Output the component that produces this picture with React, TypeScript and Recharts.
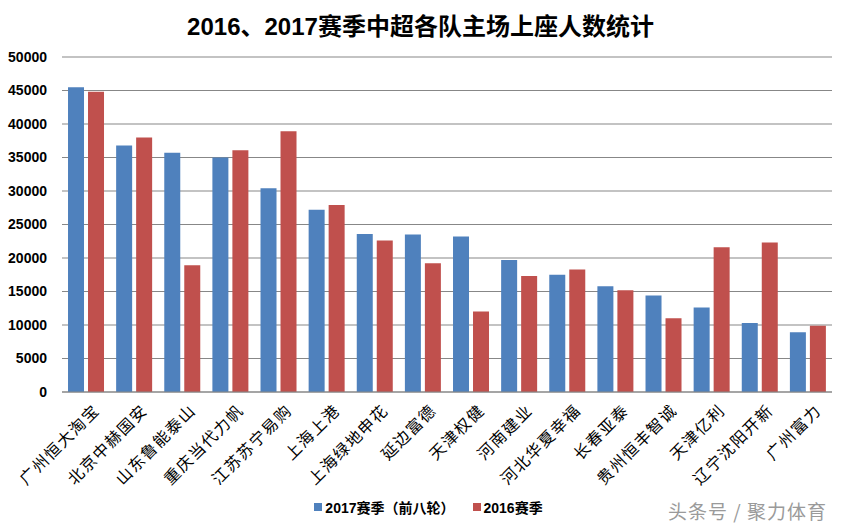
import { Bar, BarChart, CartesianGrid, Legend, XAxis, YAxis } from "recharts";

const teams = [
  "广州恒大淘宝", "北京中赫国安", "山东鲁能泰山", "重庆当代力帆", "江苏苏宁易购", "上海上港",
  "上海绿地申花", "延边富德", "天津权健", "河南建业", "河北华夏幸福", "长春亚泰",
  "贵州恒丰智诚", "天津亿利", "辽宁沈阳开新", "广州富力",
];
const season2017 = [
  45500, 36800, 35700, 35000, 30400, 27200, 23600, 23500, 23200, 19700, 17500, 15800,
  14400, 12600, 10300, 8900,
];
const season2016 = [
  44800, 38000, 18900, 36100, 38900, 27900, 22600, 19200, 12000, 17300, 18300, 15200,
  11000, 21600, 22300, 9900,
];
const yTicks = [0, 5000, 10000, 15000, 20000, 25000, 30000, 35000, 40000, 45000, 50000];

const seriesNames = ["2017赛季（前八轮）", "2016赛季"];
const colors = ["#4F81BD", "#C0504D"];

const data = teams.map((name, i) => ({ name, s2017: season2017[i], s2016: season2016[i] }));

const cjk = '"Noto Sans CJK SC", sans-serif';

function TeamTick({ x, y, payload }: any) {
  return (
    <g transform={`translate(${x + 6},${y + 3})`}>
      <text
        x={0}
        y={0}
        dy="0.75em"
        textAnchor="end"
        transform="rotate(-45)"
        fontSize={16}
        letterSpacing={1.5}
        fontFamily={cjk}
        fill="#000"
      >
        {payload.value}
      </text>
    </g>
  );
}

function LegendBox() {
  return (
    <div style={{ display: "flex", justifyContent: "center", gap: 18, paddingLeft: 16 }}>
      {seriesNames.map((n, i) => (
        <span key={n} style={{ display: "flex", alignItems: "center", fontSize: 14, fontWeight: "bold", fontFamily: '"Liberation Sans Narrow", "Liberation Sans", ' + cjk }}>
          <span style={{ width: 8, height: 8, background: colors[i], marginRight: 3, display: "inline-block" }} />
          {n}
        </span>
      ))}
    </div>
  );
}

export default function App() {
  return (
    <div style={{ position: "absolute", left: 0, top: 0, width: 841, height: 526, background: "#fff" }}>
      <div
        style={{
          position: "absolute", top: 7, left: 0, width: 841, textAlign: "center",
          fontSize: 24, fontWeight: "bold", fontFamily: '"Liberation Sans", ' + cjk,
        }}
      >
        2016、2017赛季中超各队主场上座人数统计
      </div>
      <BarChart
        width={841}
        height={526}
        data={data}
        margin={{ top: 57, right: 9, left: 0, bottom: 0 }}
        barCategoryGap="12.5%"
        barGap={4}
      >
        <CartesianGrid vertical={false} stroke="#878787" strokeWidth={1} />
        <XAxis
          dataKey="name"
          interval={0}
          height={134}
          axisLine={{ stroke: "#878787" }}
          tickLine={false}
          tick={<TeamTick />}
        />
        <YAxis
          width={62}
          domain={[0, 50000]}
          ticks={yTicks}
          axisLine={false}
          tickLine={false}
          tickMargin={9}
          tick={{ fontSize: 14, fontWeight: "bold", fill: "#000", fontFamily: '"Liberation Sans", sans-serif' }}
        />
        <Legend
          verticalAlign="middle"
          align="center"
          content={<LegendBox />}
          wrapperStyle={{ top: 497, left: 0, width: 841 }}
        />
        <Bar dataKey="s2017" name={seriesNames[0]} fill={colors[0]} isAnimationActive={false} />
        <Bar dataKey="s2016" name={seriesNames[1]} fill={colors[1]} isAnimationActive={false} />
      </BarChart>
      <div
        style={{
          position: "absolute", left: 668, top: 497, fontSize: 19, color: "#9a9a9a",
          fontFamily: cjk, letterSpacing: 1,
        }}
      >
        头条号 / 聚力体育
      </div>
    </div>
  );
}
